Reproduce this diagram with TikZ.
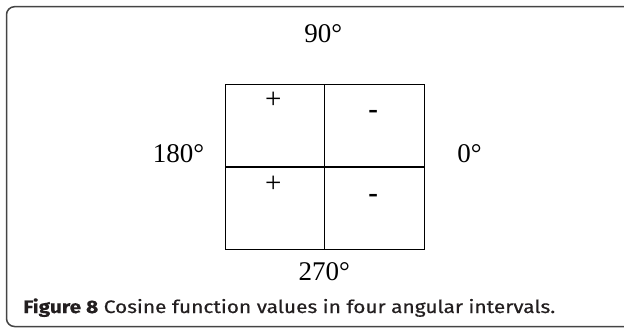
\documentclass[tikz,border=0pt]{standalone}
\usepackage{fontspec}
\setmainfont{Liberation Serif}
\newfontfamily\capfont{Fira Sans}[FakeBold=0.5]
\definecolor{captxt}{HTML}{231F20}
\definecolor{framecol}{HTML}{444444}
\begin{document}
\begin{tikzpicture}[x=1pt,y=-1pt,
  lbl/.style={inner sep=0pt, font=\fontsize{27}{30}\selectfont, anchor=base},
  sign/.style={inner sep=0pt, font=\fontsize{29}{30}\selectfont, anchor=base},
  cell/.style={draw=black, line width=1.3pt, minimum width=99.5pt, minimum height=82.3pt, inner sep=0pt, anchor=north west},
  captionstyle/.style={inner sep=0pt, anchor=base west, text=captxt, font=\capfont\fontsize{18}{22}\selectfont},
  ]
\useasboundingbox (0,0) rectangle (624,327);
\begin{scope}
\clip (0,0) rectangle (624,327);
\draw[line width=1.5pt, draw=framecol, rounded corners=8pt] (6.5,6.7) rectangle (640,326.5);
\end{scope}
% grid cells
\node[cell] (tl) at (224.6,84.0) {};
\node[cell] (tr) at (324.1,84.0) {};
\node[cell] (bl) at (224.6,166.3) {};
\node[cell] (br) at (324.1,166.3) {};
% signs
\node[sign] (ptl) at (273.3,108.8) {+};
\node[sign] (pbl) at (273.3,192.3) {+};
\node[sign] (mtr) at (373.3,118.6) {\bfseries -};
\node[sign] (mbr) at (373.3,202.0) {\bfseries -};
% angle labels
\node[lbl] (a90) at (323.3,42.7) {90°};
\node[lbl] (a180) at (178.5,162.3) {180°};
\node[lbl] (a0) at (469.5,162.3) {0°};
\node[lbl] (a270) at (324.2,280.0) {270°};
% caption
\node[captionstyle] (caption) at (23,313) {\scalebox{1.16}[1]{\bfseries Figure 8\mdseries\ Cosine function values in four angular intervals.}};
\end{tikzpicture}
\end{document}
